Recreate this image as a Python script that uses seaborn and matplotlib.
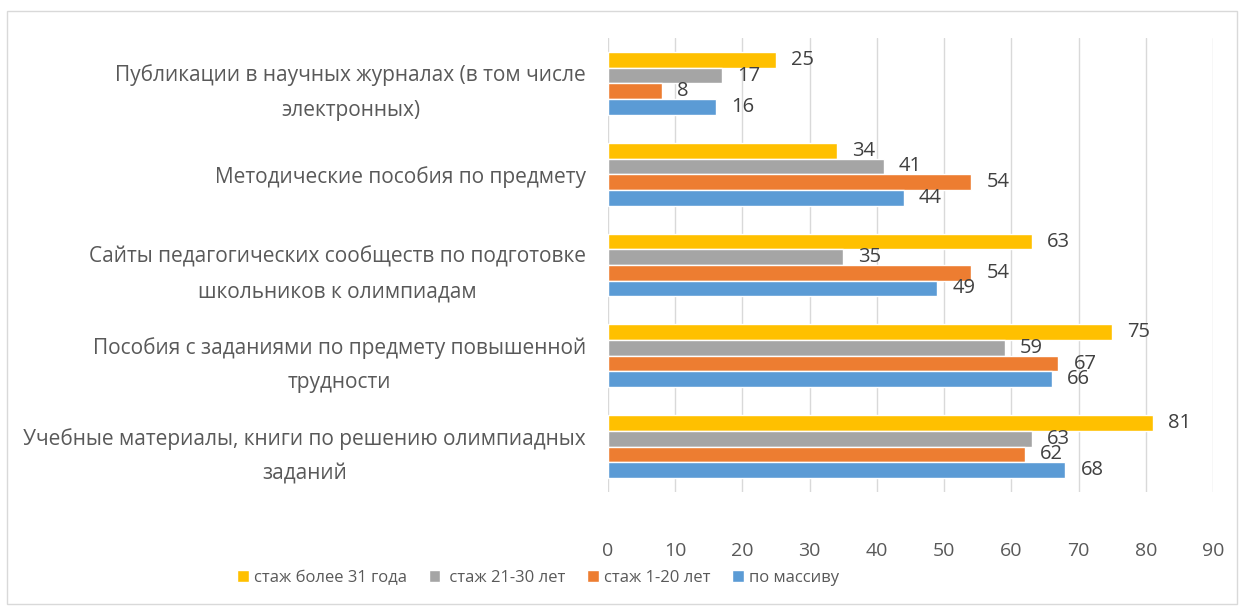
import pandas as pd
import matplotlib.pyplot as plt
import seaborn as sns
from matplotlib.patches import Rectangle

# --- data ---
categories = [
    "Публикации в научных журналах (в том числе\nэлектронных)",
    "Методические пособия по предмету",
    "Сайты педагогических сообществ по подготовке\nшкольников к олимпиадам",
    "Пособия с заданиями по предмету повышенной\nтрудности",
    "Учебные материалы, книги по решению олимпиадных\nзаданий",
]
series = ["стаж более 31 года", "стаж 21-30 лет", "стаж 1-20 лет", "по массиву"]
over_31 = [25, 34, 63, 75, 81]
years_21_30 = [17, 41, 35, 59, 63]
years_1_20 = [8, 54, 54, 67, 62]
overall = [16, 44, 49, 66, 68]
x_ticks = [0, 10, 20, 30, 40, 50, 60, 70, 80, 90]

colors = ["#FFC000", "#A5A5A5", "#ED7D31", "#5B9BD5"]
text_col = "#595959"

# long format for seaborn
rows = []
for name, vals in zip(series, [over_31, years_21_30, years_1_20, overall]):
    for cat, v in zip(categories, vals):
        rows.append({"cat": cat, "series": name, "value": v})
df = pd.DataFrame(rows)

sns.set_style("white")
plt.rcParams["font.family"] = ["Open Sans", "DejaVu Sans"]

fig = plt.figure(figsize=(12.45, 6.10), dpi=100)
ax = fig.add_axes([608 / 1245, 1 - 492 / 610, 605 / 1245, 454 / 610])

sns.barplot(data=df, y="cat", x="value", hue="series", order=categories,
            hue_order=series, palette=colors, orient="h", width=0.69,
            saturation=1, ax=ax, legend=True)

for cont in ax.containers:
    ax.bar_label(cont, padding=11, fontsize=14.5, color="#404040")

ax.set_xlim(0, 90)
ax.set_xticks(x_ticks)
ax.grid(axis="x", color="#D9D9D9", linewidth=1)
ax.set_axisbelow(True)
for s in ax.spines.values():
    s.set_visible(False)
ax.set_xlabel("")
ax.set_ylabel("")
ax.tick_params(axis="x", length=0, pad=36, labelsize=14, labelcolor=text_col)
ax.tick_params(axis="y", length=0, pad=16, labelsize=15, labelcolor=text_col)
for lbl in ax.get_yticklabels():
    lbl.set_multialignment("center")
    lbl.set_linespacing(1.85)

handles, labels = ax.get_legend_handles_labels()
ax.get_legend().remove()
# the office legend shows an extra space before the second entry
labels = [(" " + l if l == "стаж 21-30 лет" else l) for l in labels]
fig.legend(handles, labels, loc="center", bbox_to_anchor=(538 / 1245, 1 - 578 / 610),
           ncol=4, frameon=False, fontsize=12, labelcolor=text_col,
           handlelength=0.7, handleheight=0.7, handletextpad=0.3, columnspacing=1.3)

# light chart border like the office chart frame
fig.patches.append(Rectangle((7 / 1245, 1 - 604 / 610), 1230 / 1245, 593 / 610,
                             transform=fig.transFigure, fill=False,
                             edgecolor="#D9D9D9", linewidth=1))

fig.savefig("out.png", dpi=100)
